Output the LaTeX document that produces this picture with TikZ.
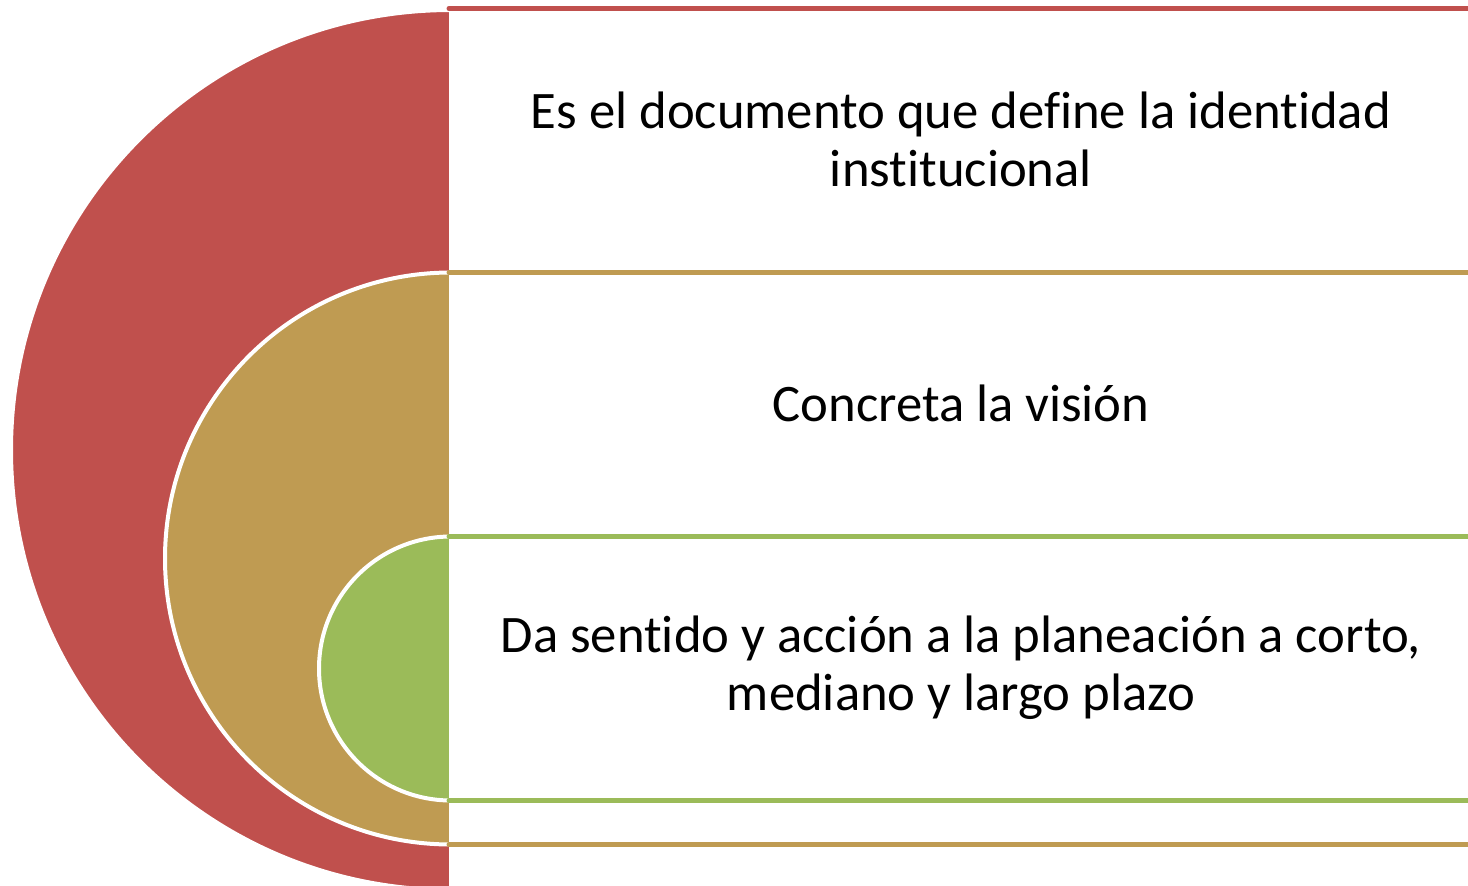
\documentclass[tikz,border=0pt]{standalone}
\usepackage{fontspec}
\setmainfont{Carlito}[Ligatures={NoCommon}]
\definecolor{cred}{HTML}{C0504D}
\definecolor{ctan}{HTML}{BF9B52}
\definecolor{cgreen}{HTML}{9BBB59}
\begin{document}
\begin{tikzpicture}[x=0.02cm,y=-0.02cm,
  disc/.style={draw=white,line width=0.08cm},
  band/.style={line width=0.1cm,line cap=round},
  lbl/.style={align=center,font=\fontsize{30}{33}\selectfont,text=black,inner sep=0pt}]
\useasboundingbox (0,0) rectangle (1468,886);
% half discs
\path[disc,fill=cred] (451,10) arc[start angle=-90,end angle=-270,radius=440] -- cycle;
\path[disc,fill=ctan] (451,272.5) arc[start angle=-90,end angle=-270,radius=286] -- cycle;
\path[disc,fill=cgreen] (451,536.5) arc[start angle=-90,end angle=-270,radius=132] -- cycle;
% bands
\coordinate (r1) at (449,8.5);   \coordinate (r2) at (1475,8.5);
\coordinate (a1) at (449,272.5); \coordinate (a2) at (1475,272.5);
\coordinate (g1) at (449,536.5); \coordinate (g2) at (1475,536.5);
\coordinate (h1) at (449,800.5); \coordinate (h2) at (1475,800.5);
\coordinate (b1) at (449,844.5); \coordinate (b2) at (1475,844.5);
\draw[band,cred] (r1) -- (r2);
\draw[band,ctan] (a1) -- (a2);
\draw[band,cgreen] (g1) -- (g2);
\draw[band,cgreen] (h1) -- (h2);
\draw[band,ctan] (b1) -- (b2);
% labels
\node[lbl] (t1) at (961,139) {Es el documento que define la identidad\\institucional};
\node[lbl] (t2) at (961,403.5) {Concreta la visión};
\node[lbl] (t3) at (961,667.5) {Da sentido y acción a la planeación a corto,\\mediano y largo plazo};
\end{tikzpicture}
\end{document}
